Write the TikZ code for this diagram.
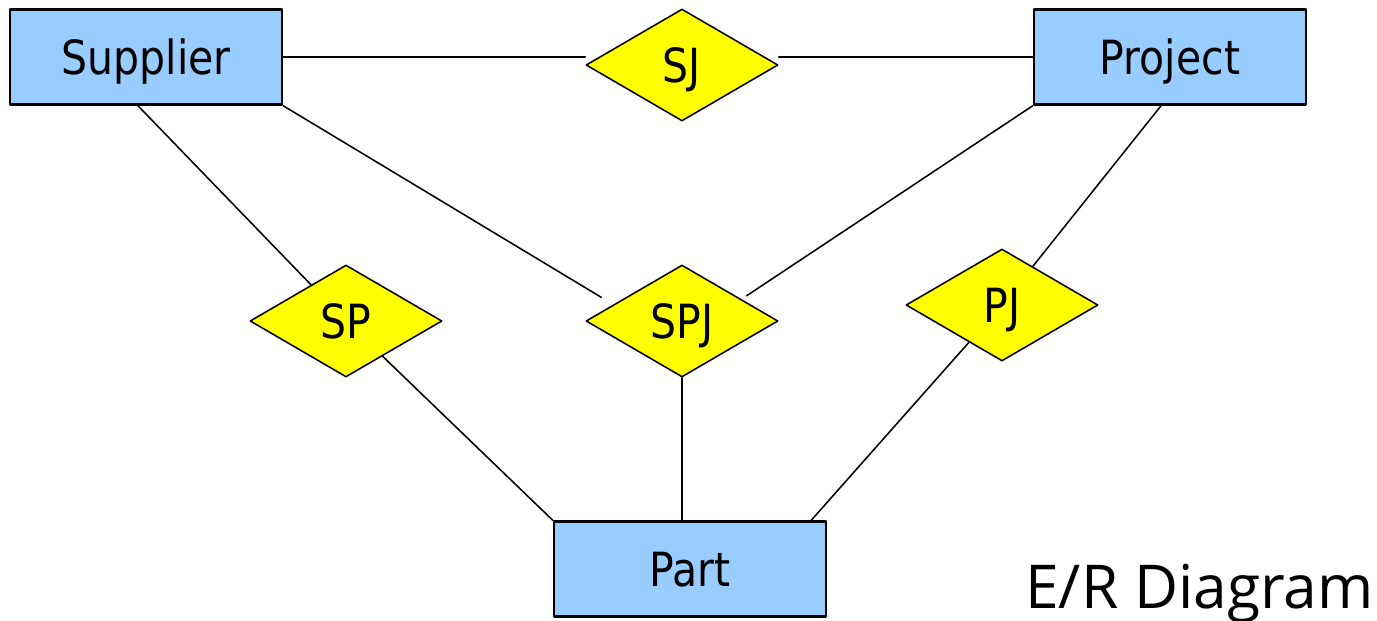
\documentclass[tikz,border=0pt]{standalone}
\usepackage{fontspec}
\setmainfont{DejaVu Sans}[FakeStretch=0.87]
\newfontfamily\captionfont{Open Sans}
\usetikzlibrary{calc, positioning, shapes.geometric}
\definecolor{entityblue}{HTML}{99CCFF}
\definecolor{relyellow}{HTML}{FFFF00}

\begin{document}
\begin{tikzpicture}[line cap=round, line join=round, x=0.025cm, y=-0.025cm,
  entity/.style={draw, line width=1.8pt, fill=entityblue, minimum width=6.8cm, minimum height=2.375cm,
    inner sep=0pt, text height=24.4pt, text depth=0pt, font=\fontsize{33.5}{40}\selectfont},
  relation/.style={draw, diamond, line width=1.1pt, fill=relyellow, minimum width=4.8cm, minimum height=2.8cm,
    inner sep=0pt, text height=24.4pt, text depth=0pt, font=\fontsize{33.5}{40}\selectfont},
  link/.style={line width=1.1pt}]
\useasboundingbox (0,0) rectangle (1377,620);

% Entities
\node [entity] (sup) at (146,57) {Supplier};
\node [entity] (prj) at (1170,57) {Project};
\node [entity] (part) at (690,569) {Part};

% Relationships
\node [relation] (sj) at (682,65) {SJ};
\node [relation] (sp) at (346,321) {SP};
\node [relation] (spj) at (682,321) {SPJ};
\node [relation] (pj) at (1002,305) {PJ};

% Links
\draw [link] (sup.east) -- (sup.east -| sj.west);
\draw [link] (prj.west) -- (prj.west -| sj.east);
\draw [link] ([xshift=-0.2cm]sup.south) -- (sp);
\draw [link] (sp) -- (part.north west);
\draw [link, shorten >=0.35cm] (sup.south east) -- ($(spj.west)!0.29!(spj.north)$);
\draw [link, shorten >=0.15cm] (prj.south west) -- ($(spj.north)!0.615!(spj.east)$);
\draw [link] (spj.south) -- (spj.south |- part.north);
\draw [link] ([xshift=-0.225cm]prj.south) -- (pj);
\draw [link] (pj) -- ([xshift=-0.4cm]part.north east);

% Caption
\node [anchor=base west, inner sep=0pt, font=\captionfont\fontsize{43}{52}\selectfont] (title) at (1025,608) {E/R Diagram};
\end{tikzpicture}
\end{document}
